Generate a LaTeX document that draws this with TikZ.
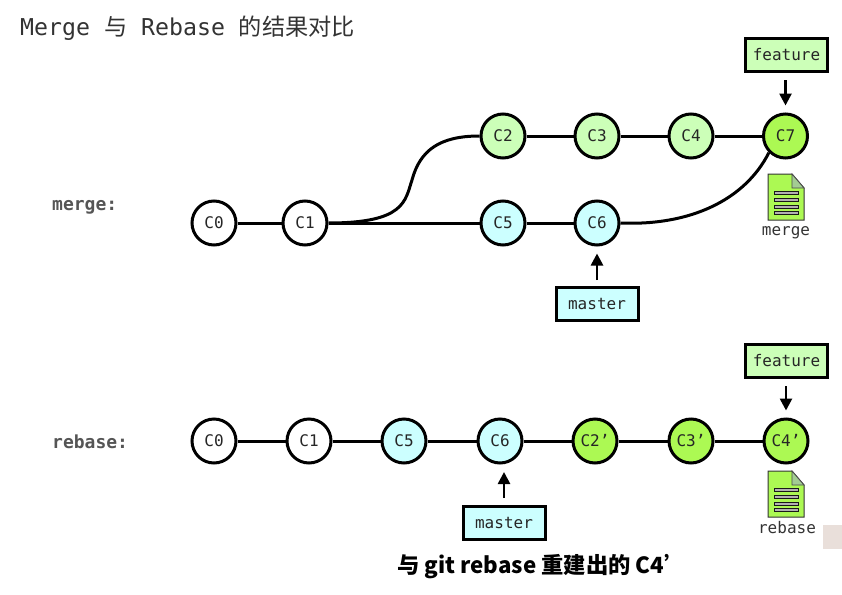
\documentclass[tikz,border=0pt]{standalone}
\usepackage{fontspec}
\setmonofont{DejaVu Sans Mono}
\newfontfamily\cjk{Noto Sans CJK SC}
\newfontfamily\cjkb{Noto Sans CJK SC Black}
\usetikzlibrary{arrows.meta}
\definecolor{lgreen}{HTML}{CCFFB8}
\definecolor{lblue}{HTML}{CCFFFF}
\definecolor{bgreen}{HTML}{ACF953}
\definecolor{tgray}{HTML}{333333}
\definecolor{lblgray}{HTML}{555555}
\definecolor{pale}{HTML}{E9DFDA}
\tikzset{
  commit/.style={circle,draw=black,line width=3pt,minimum size=44pt,inner sep=0pt,fill=white,font=\ttfamily\fontsize{16}{16}\selectfont,text=black!85},
  cgreen/.style={commit,fill=lgreen},
  cblue/.style={commit,fill=lblue},
  cbright/.style={commit,fill=bgreen},
  branchbox/.style={draw=black,line width=3pt,minimum width=82pt,minimum height=33pt,inner sep=0pt,font=\ttfamily\fontsize{16}{16}\selectfont,text=black!85},
  link/.style={line width=3pt,draw=black},
  pointer/.style={line width=2.6pt,draw=black,shorten >=7pt,-{Triangle[length=12pt,width=12pt]}},
  filelabel/.style={font=\ttfamily\fontsize{16}{16}\selectfont,text=black!80},
  rowlabel/.style={font=\ttfamily\bfseries\fontsize{18}{18}\selectfont,text=lblgray,anchor=west},
  pics/docicon/.style={code={
    \fill[bgreen,draw=black!80,line width=1pt] (-18,-23) -- (6,-23) -- (18,-9) -- (18,23) -- (-18,23) -- cycle;
    \fill[black!20!lgreen,draw=black!70,line width=.8pt] (6,-23) -- (6,-9) -- (18,-9) -- cycle;
    \foreach \yy in {-4,3,10,16}
      \draw[fill=black!30,draw=black!90,line width=.6pt] (-12,\yy-1.7) rectangle (12,\yy+1.7);
  }}
}
\begin{document}
\begin{tikzpicture}[x=1pt,y=-1pt]
\useasboundingbox (0,0) rectangle (842,594);
\fill[white] (0,0) rectangle (842,594);
\fill[pale] (823,525) rectangle (842,549);
\node[anchor=west,text=tgray,inner sep=0pt] (title) at (20,28)
  {\fontsize{23.2}{23.2}\selectfont\ttfamily Merge {\cjk 与} Rebase {\cjk 的结果对比}};
\node[rowlabel,inner sep=0pt] (lm) at (52,207) {merge:};
\node[rowlabel,inner sep=0pt] (lr) at (52,442) {rebase:};
% merge row
\node[commit] (a0) at (214,223) {C0};
\node[commit] (a1) at (305,223) {C1};
\node[cblue] (a5) at (503,223) {C5};
\node[cblue] (a6) at (597,223) {C6};
\node[cgreen] (a2) at (503,136) {C2};
\node[cgreen] (a3) at (597,136) {C3};
\node[cgreen] (a4) at (691,136) {C4};
\node[cbright] (a7) at (785.5,136) {C7};
\draw[link] (a0) -- (a1);
\draw[link] (a1) -- (a5);
\draw[link] (a5) -- (a6);
\draw[link] (a2) -- (a3);
\draw[link] (a3) -- (a4);
\draw[link] (a4) -- (a7);
\draw[link] (a1.east) .. controls (405,223) and (405,201) .. (412,180) .. controls (420,150) and (440,136) .. (a2.west);
\draw[link] (a6.east) .. controls (690,226) and (745,200) .. (a7.south west);
\node[branchbox,fill=lgreen] (bf1) at (786.5,55) {feature};
\node[branchbox,fill=lblue] (bm1) at (597,304) {master};
\coordinate (p1) at (785.5,80);
\coordinate (p2) at (597,280);
\draw[pointer] (p1) -- (a7.north);
\draw[pointer] (p2) -- (a6.south);
\pic at (786,197) {docicon};
\node[filelabel] (fm) at (786,233) {merge};
% rebase row
\node[commit] (b0) at (214,441) {C0};
\node[commit] (b1) at (309,441) {C1};
\node[cblue] (b5) at (404,441) {C5};
\node[cblue] (b6) at (500,441) {C6};
\node[cbright] (b2) at (595,441) {C2’};
\node[cbright] (b3) at (691,441) {C3’};
\node[cbright] (b4) at (786,441) {C4’};
\draw[link] (b0) -- (b1);
\draw[link] (b1) -- (b5);
\draw[link] (b5) -- (b6);
\draw[link] (b6) -- (b2);
\draw[link] (b2) -- (b3);
\draw[link] (b3) -- (b4);
\node[branchbox,fill=lgreen] (bf2) at (786.5,360.5) {feature};
\node[branchbox,fill=lblue] (bm2) at (504,522.5) {master};
\coordinate (p3) at (786,386);
\coordinate (p4) at (504,498);
\coordinate (t4) at (504,465);
\draw[pointer] (p3) -- (b4.north);
\draw[pointer] (p4) -- (t4);
\pic at (786,494) {docicon};
\node[filelabel] (fr) at (787,528) {rebase};
\node[anchor=west,inner sep=0pt,text=black] (cap) at (397,566.5)
  {\fontsize{22.3}{22.3}\selectfont\cjkb 与 git rebase 重建出的 C4’};
\end{tikzpicture}
\end{document}
